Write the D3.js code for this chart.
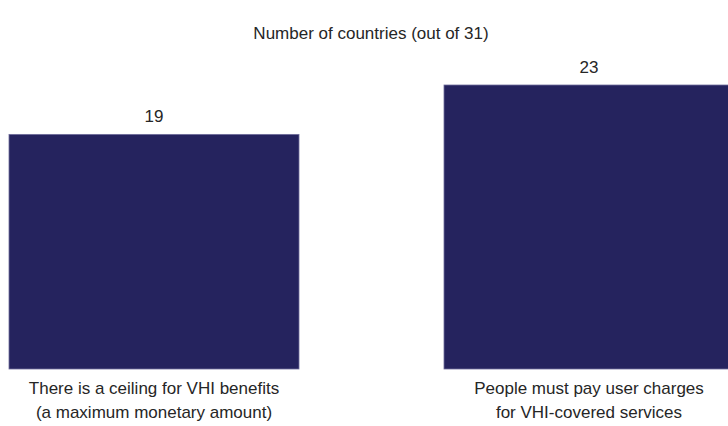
<!DOCTYPE html>
<html>
<head>
<meta charset="utf-8">
<script src="https://cdn.jsdelivr.net/npm/d3@7"></script>
<style>
  body { margin: 0; background: #fff; }
  text { font-family: "Liberation Sans", Arial, sans-serif; fill: #262626; }
</style>
</head>
<body>
<div id="chart"></div>
<script>
// data
var categories = [
  ["There is a ceiling for VHI benefits", "(a maximum monetary amount)"],
  ["People must pay user charges", "for VHI-covered services"]
];
var values = [19, 23];
var title = "Number of countries (out of 31)";

var W = 728, H = 426;
var baseline = 369;
var fontSize = "17px";

var svg = d3.select("#chart").append("svg")
  .attr("width", W)
  .attr("height", H);

//band scale - the second bar runs off the right edge like in the original
var x = d3.scaleBand()
  .domain(d3.range(values.length))
  .range([9, 734])
  .paddingInner(1/3)
  .paddingOuter(0);

var y = d3.scaleLinear()
  .domain([0, 23])
  .range([baseline, 85]);

svg.append("text")
  .attr("x", 371)
  .attr("y", 39)
  .attr("text-anchor", "middle")
  .style("font-size", fontSize)
  .text(title);

svg.selectAll("rect.bar")
  .data(values)
  .enter().append("rect")
  .attr("class", "bar")
  .attr("x", function(d, i){ return x(i); })
  .attr("y", function(d){ return y(d); })
  .attr("width", x.bandwidth())
  .attr("height", function(d){ return baseline - y(d); })
  .attr("fill", "#25235e")
  .attr("stroke", "#6f6d9c")
  .attr("stroke-width", 0.8);

//value labels above each bar
svg.selectAll("text.val")
  .data(values)
  .enter().append("text")
  .attr("class", "val")
  .attr("x", function(d, i){ return x(i) + x.bandwidth()/2; })
  .attr("y", function(d){ return y(d) - 12; })
  .attr("text-anchor", "middle")
  .style("font-size", fontSize)
  .text(function(d){ return d; });

//two-line category labels under the bars
var labels = svg.selectAll("text.cat")
  .data(categories)
  .enter().append("text")
  .attr("class", "cat")
  .attr("text-anchor", "middle")
  .style("font-size", fontSize);

labels.selectAll("tspan")
  .data(function(d, i){ return d.map(function(t){ return {t: t, i: i}; }); })
  .enter().append("tspan")
  .attr("x", function(d){ return x(d.i) + x.bandwidth()/2; })
  .attr("y", function(d, j){ return 394 + j*24; })
  .text(function(d){ return d.t; });
</script>
</body>
</html>
